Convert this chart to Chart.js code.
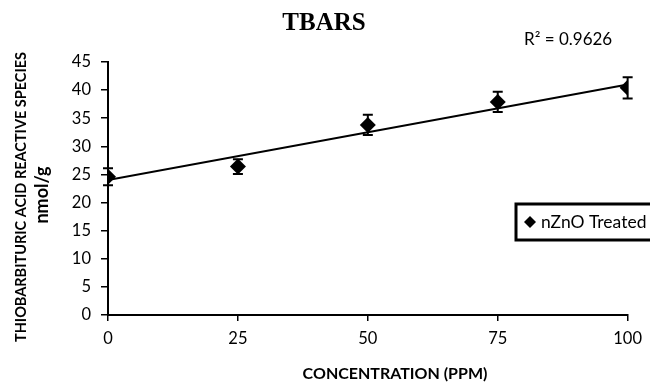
<!DOCTYPE html>
<html lang="en">
<head>
  <meta charset="UTF-8" />
  <title>TBARS</title>
  <script src="https://cdn.jsdelivr.net/npm/chart.js"></script>
  <style>
    body { margin: 0; background: #fff; }
    #wrap { width: 650px; height: 384px; }
  </style>
</head>
<body>
<div id="wrap"><canvas id="tbarsChart" width="650" height="384"></canvas></div>

<script>
// data
const concentrations = [0, 25, 50, 75, 100];
const tbarsValues = [24.6, 26.4, 33.8, 37.9, 40.4];
const tbarsErrors = [1.5, 1.3, 1.8, 1.8, 1.9];
const trendX = [0, 100];
const trendY = [24.0, 41.0];
const xTicks = [0, 25, 50, 75, 100];
const yTicks = [0, 5, 10, 15, 20, 25, 30, 35, 40, 45];

const serieLabel = 'nZnO Treated';
const rSquared = 'R² = 0.9626';

const puntos = concentrations.map((c, i) => ({ x: c, y: tbarsValues[i] }));
const tendencia = trendX.map((c, i) => ({ x: c, y: trendY[i] }));

// error bars, drawn with the chart scales
const barrasError = {
  id: 'barrasError',
  afterDatasetsDraw(chart) {
    const ctx = chart.ctx;
    const xs = chart.scales.x, ys = chart.scales.y;
    ctx.save();
    ctx.strokeStyle = '#000';
    ctx.lineWidth = 2;
    concentrations.forEach((c, i) => {
      const px = xs.getPixelForValue(c);
      const top = ys.getPixelForValue(tbarsValues[i] + tbarsErrors[i]);
      const bot = ys.getPixelForValue(tbarsValues[i] - tbarsErrors[i]);
      ctx.beginPath();
      ctx.moveTo(px, top); ctx.lineTo(px, bot);
      ctx.moveTo(px - 5, top); ctx.lineTo(px + 5, top);
      ctx.moveTo(px - 5, bot); ctx.lineTo(px + 5, bot);
      ctx.stroke();
    });
    ctx.restore();
  }
};

// titles, R² note and the boxed legend
const textos = {
  id: 'textos',
  afterDraw(chart) {
    const ctx = chart.ctx;
    ctx.save();
    ctx.fillStyle = '#000';
    ctx.textBaseline = 'middle';

    ctx.font = 'bold 25px "Liberation Serif"';
    ctx.textAlign = 'center';
    ctx.fillText('TBARS', 324, 24);

    ctx.font = '17px Lato';
    ctx.textAlign = 'left';
    ctx.fillText(rSquared, 524, 40);

    ctx.font = 'bold 16px Lato';
    ctx.textAlign = 'center';
    ctx.fillText('CONCENTRATION (PPM)', 395, 374);

    ctx.save();
    ctx.translate(21, 197);
    ctx.rotate(-Math.PI / 2);
    ctx.font = 'bold 14.5px Lato';
    ctx.fillText('THIOBARBITURIC ACID REACTIVE SPECIES', 0, 0);
    ctx.restore();

    ctx.save();
    ctx.translate(42, 195);
    ctx.rotate(-Math.PI / 2);
    ctx.font = 'bold 18px Lato';
    ctx.fillText('nmol/g', 0, 0);
    ctx.restore();

    // legend box
    ctx.strokeStyle = '#000';
    ctx.lineWidth = 3;
    ctx.strokeRect(516, 204, 150, 36);
    ctx.beginPath();
    ctx.moveTo(530, 216); ctx.lineTo(536, 222); ctx.lineTo(530, 228); ctx.lineTo(524, 222);
    ctx.closePath();
    ctx.fill();
    ctx.font = '17.5px Lato';
    ctx.textAlign = 'left';
    ctx.fillText(serieLabel, 541, 222);
    ctx.restore();
  }
};

new Chart(document.getElementById('tbarsChart').getContext('2d'), {
  type: 'scatter',
  data: {
    datasets: [
      {
        label: 'Tendencia',
        data: tendencia,
        showLine: true,
        borderColor: '#000',
        borderWidth: 2,
        pointRadius: 0,
        fill: false
      },
      {
        label: serieLabel,
        data: puntos,
        pointStyle: 'rectRot',
        pointRadius: 8,
        backgroundColor: '#000',
        borderColor: '#000',
        borderWidth: 0
      }
    ]
  },
  options: {
    responsive: false,
    animation: false,
    layout: { padding: { top: 62, right: 19, bottom: 0, left: 0 } },
    plugins: { legend: { display: false }, tooltip: { enabled: false }, title: { display: false } },
    scales: {
      x: {
        type: 'linear',
        min: 0, max: 100,
        afterBuildTicks: s => { s.ticks = xTicks.map(v => ({ value: v })); },
        afterFit: s => { s.height = 69; },
        grid: { drawOnChartArea: false, drawTicks: true, tickLength: 6, color: '#000', lineWidth: 1.5 },
        border: { display: true, color: '#000', width: 2 },
        ticks: { color: '#000', font: { family: 'Lato', size: 16.5 }, padding: 8, maxRotation: 0 }
      },
      y: {
        type: 'linear',
        min: 0, max: 45,
        afterBuildTicks: s => { s.ticks = yTicks.map(v => ({ value: v })); },
        afterFit: s => { s.width = 108; },
        grid: { drawOnChartArea: false, drawTicks: true, tickLength: 7, color: '#000', lineWidth: 1.5 },
        border: { display: true, color: '#000', width: 2 },
        ticks: { color: '#000', font: { family: 'Lato', size: 16.5 }, padding: 10 }
      }
    }
  },
  plugins: [barrasError, textos]
});
</script>
</body>
</html>
